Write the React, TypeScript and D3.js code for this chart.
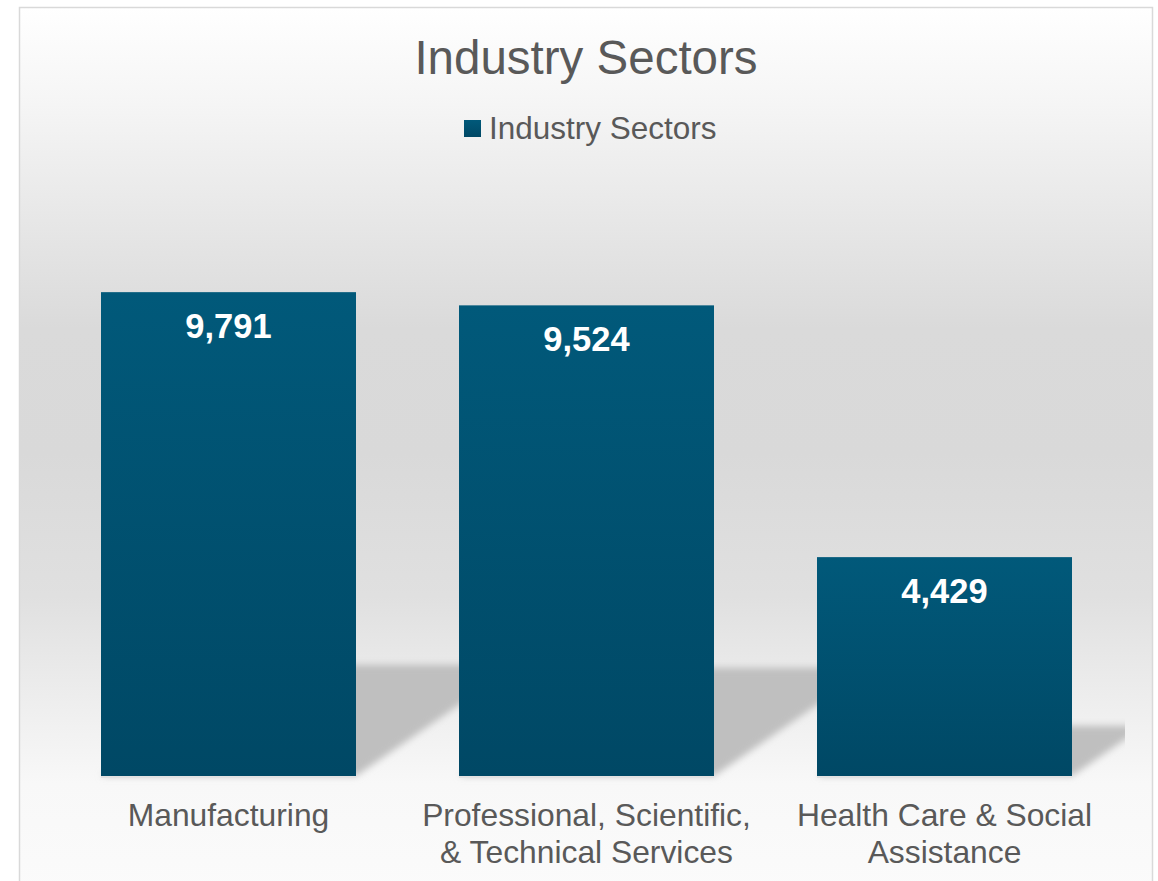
import React, { useEffect, useRef } from "react";
import * as d3 from "d3";

// chart values
const categories = ["Manufacturing", "Professional", "Health"];
const values = [9791, 9524, 4429];
const tickLabels = [
  ["Manufacturing"],
  ["Professional, Scientific,", "& Technical Services"],
  ["Health Care & Social", "Assistance"],
];
const seriesName = "Industry Sectors";
const chartTitle = "Industry Sectors";

export default function App() {
  const svgRef = useRef<SVGSVGElement>(null);

  useEffect(() => {
    if (!svgRef.current) return;
    const svg = d3.select(svgRef.current);
    const width = 1158;
    const height = 881;
    svg.selectAll("*").remove();
    svg.attr("width", width).attr("height", height);

    const font = "Liberation Sans";
    const textColor = "#595959";

    const defs = svg.append("defs");

    // chart area background
    const bg = defs
      .append("linearGradient")
      .attr("id", "bg")
      .attr("x1", 0)
      .attr("y1", 0)
      .attr("x2", 0)
      .attr("y2", 1);
    [
      [0, "#ffffff"],
      [0.1, "#f6f6f6"],
      [0.22, "#e9e9e9"],
      [0.36, "#dadada"],
      [0.5, "#d9d9d9"],
      [0.66, "#e0e0e0"],
      [0.78, "#eeeeee"],
      [0.87, "#f8f8f8"],
      [1, "#fbfbfb"],
    ].forEach(([o, c]) => bg.append("stop").attr("offset", o as number).attr("stop-color", c as string));

    const barGrad = defs
      .append("linearGradient")
      .attr("id", "barGrad")
      .attr("x1", 0)
      .attr("y1", 0)
      .attr("x2", 0)
      .attr("y2", 1);
    barGrad.append("stop").attr("offset", 0).attr("stop-color", "#01597a");
    barGrad.append("stop").attr("offset", 1).attr("stop-color", "#004865");

    defs
      .append("filter")
      .attr("id", "blur")
      .attr("x", "-20%")
      .attr("y", "-20%")
      .attr("width", "140%")
      .attr("height", "140%")
      .append("feGaussianBlur")
      .attr("stdDeviation", 3.5);

    defs
      .append("clipPath")
      .attr("id", "plotClip")
      .append("rect")
      .attr("x", 40)
      .attr("y", 150)
      .attr("width", 1085)
      .attr("height", 640);

    svg
      .append("rect")
      .attr("x", 19.5)
      .attr("y", 7.5)
      .attr("width", 1133)
      .attr("height", 892)
      .attr("fill", "url(#bg)")
      .attr("stroke", "#d9d9d9")
      .attr("stroke-width", 1.5);

    // scales
    const x = d3
      .scaleBand<string>()
      .domain(categories)
      .range([49.5, 1123.5])
      .paddingInner(0.2877)
      .paddingOuter(0.2877 / 2);

    const y = d3.scaleLinear().domain([0, 12000]).range([776, 183]);

    // floor shadows
    const shadowG = svg.append("g").attr("clip-path", "url(#plotClip)");
    categories.forEach((c, i) => {
      const x0 = x(c)!;
      const x1 = x0 + x.bandwidth();
      const b = y(0);
      const sh = 0.23 * (b - y(values[i]));
      const s = 1.45 * sh;
      shadowG
        .append("polygon")
        .attr(
          "points",
          [
            [x0, b],
            [x1, b],
            [x1 + s, b - sh],
            [x0 + s, b - sh],
          ]
            .map((p) => p.join(","))
            .join(" ")
        )
        .attr("fill", "#bfbfbf")
        .attr("filter", "url(#blur)");
    });

    // bars
    const bars = svg.append("g");
    categories.forEach((c, i) => {
      bars
        .append("rect")
        .attr("x", x(c)!)
        .attr("y", y(0))
        .attr("width", x.bandwidth())
        .attr("height", 2)
        .attr("fill", "#e2e2e2");
      bars
        .append("rect")
        .attr("x", x(c)!)
        .attr("y", y(values[i]))
        .attr("width", x.bandwidth())
        .attr("height", y(0) - y(values[i]))
        .attr("fill", "url(#barGrad)");
      bars
        .append("text")
        .attr("x", x(c)! + x.bandwidth() / 2)
        .attr("y", y(values[i]) + 46)
        .attr("text-anchor", "middle")
        .attr("font-family", font)
        .attr("font-size", 34.5)
        .attr("font-weight", "bold")
        .attr("fill", "#ffffff")
        .text(d3.format(",")(values[i]));
    });

    // category axis
    const axisG = svg
      .append("g")
      .attr("transform", `translate(0, ${y(0)})`)
      .call(d3.axisBottom(x).tickSize(0).tickFormat(() => ""));
    axisG.select(".domain").remove();
    axisG.selectAll(".tick").each(function (_d, i) {
      const t = d3
        .select(this)
        .append("text")
        .attr("text-anchor", "middle")
        .attr("y", 50)
        .attr("font-family", font)
        .attr("font-size", 31.8)
        .attr("fill", textColor);
      tickLabels[i].forEach((line, j) => {
        t.append("tspan").attr("x", 0).attr("dy", j === 0 ? 0 : 37).text(line);
      });
    });

    // title
    svg
      .append("text")
      .attr("x", 586)
      .attr("y", 74)
      .attr("text-anchor", "middle")
      .attr("font-family", font)
      .attr("font-size", 47.5)
      .attr("fill", textColor)
      .text(chartTitle);

    // legend
    const legend = svg.append("g");
    legend
      .append("rect")
      .attr("x", 464)
      .attr("y", 120)
      .attr("width", 17)
      .attr("height", 17)
      .attr("fill", "url(#barGrad)");
    legend
      .append("text")
      .attr("x", 489)
      .attr("y", 139)
      .attr("font-family", font)
      .attr("font-size", 31.5)
      .attr("fill", textColor)
      .text(seriesName);
  }, []);

  return <svg ref={svgRef} style={{ position: "absolute", left: 0, top: 0, display: "block" }} />;
}
